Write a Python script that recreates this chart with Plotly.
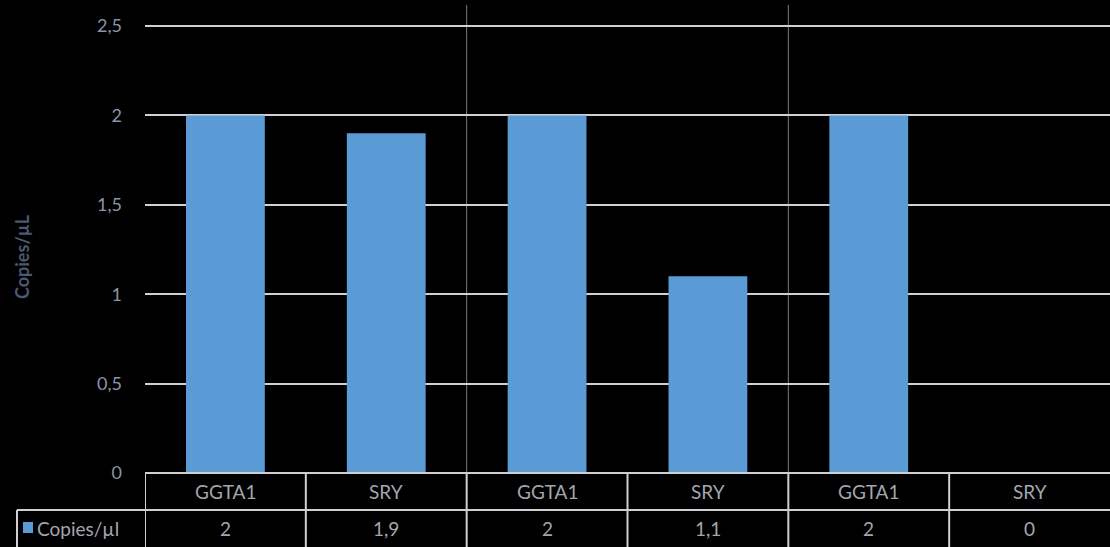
import plotly.graph_objects as go

categories = ["GGTA1", "SRY", "GGTA1", "SRY", "GGTA1", "SRY"]
values = [2, 1.9, 2, 1.1, 2, 0]
series_name = "Copies/µl"
y_title = "Copies/µL"
y_ticks = [0, 0.5, 1, 1.5, 2, 2.5]

W, H = 1110, 547
ML, MR, MT, MB = 145, 0, 5, 74
PW, PH = W - ML - MR, H - MT - MB
n = len(categories)
xs = list(range(n))

def fmt(v):
    s = ("%g" % v)
    return s.replace(".", ",")

FONT = "Lato"
TICKCOL = "#8a94a8"
TABCOL = "#a3a6ad"
LINECOL = "#d0d0d4"
BAR = "#5b9bd5"

fig = go.Figure()
fig.add_trace(go.Bar(
    x=xs, y=values, width=0.49,
    marker=dict(color=BAR, line=dict(width=0)),
    name=series_name, showlegend=False,
))

ymax = 2.5 * PH / (PH - (26 - MT))

def px2paper_y(py):
    return (H - MB - py) / PH

def px2paper_x(px):
    return (px - ML) / PW

shapes = []
# group separators
for b in [1.5, 3.5]:
    shapes.append(dict(type="line", xref="x", yref="paper", x0=b, x1=b,
                       y0=0, y1=1, line=dict(color="#7a7a7a", width=1), layer="below"))
# table horizontal lines
shapes.append(dict(type="line", xref="paper", yref="paper", x0=0, x1=1,
                   y0=px2paper_y(473), y1=px2paper_y(473), line=dict(color=LINECOL, width=2)))
shapes.append(dict(type="line", xref="paper", yref="paper", x0=px2paper_x(17), x1=1,
                   y0=px2paper_y(510), y1=px2paper_y(510), line=dict(color=LINECOL, width=2)))
# legend cell left border
shapes.append(dict(type="line", xref="paper", yref="paper", x0=px2paper_x(17), x1=px2paper_x(17),
                   y0=px2paper_y(510), y1=px2paper_y(H + 2), line=dict(color=LINECOL, width=2)))
# table vertical lines
for k in range(n):
    b = k - 0.5
    shapes.append(dict(type="line", xref="x", yref="paper", x0=b, x1=b,
                       y0=px2paper_y(473), y1=px2paper_y(H + 2), line=dict(color=LINECOL, width=2)))
# legend swatch
shapes.append(dict(type="rect", xref="paper", yref="paper",
                   x0=px2paper_x(23), x1=px2paper_x(33),
                   y0=px2paper_y(533), y1=px2paper_y(522),
                   fillcolor=BAR, line=dict(width=0)))

annotations = []
tfont = dict(family=FONT, size=19, color=TABCOL)
for i, (c, v) in enumerate(zip(categories, values)):
    annotations.append(dict(x=i, y=px2paper_y(491), xref="x", yref="paper", text=c,
                            xanchor="center", yanchor="middle", showarrow=False, font=tfont))
    annotations.append(dict(x=i, y=px2paper_y(528), xref="x", yref="paper", text=fmt(v),
                            xanchor="center", yanchor="middle", showarrow=False, font=tfont))
annotations.append(dict(x=px2paper_x(35), y=px2paper_y(528), xref="paper", yref="paper",
                        text=series_name, xanchor="left", yanchor="middle", showarrow=False,
                        font=tfont))
annotations.append(dict(x=px2paper_x(22), y=px2paper_y(257), xref="paper", yref="paper",
                        text="<b>" + y_title + "</b>", textangle=-90, showarrow=False,
                        xanchor="center", yanchor="middle",
                        font=dict(family=FONT, size=18, color="#4a5a72")))

fig.update_layout(
    width=W, height=H,
    margin=dict(l=ML, r=MR, t=MT, b=MB),
    paper_bgcolor="black", plot_bgcolor="black",
    separators=",.",
    bargap=0.5,
    shapes=shapes, annotations=annotations,
    xaxis=dict(range=[-0.5, n - 0.5], showgrid=False, zeroline=False,
               showticklabels=False, ticks="", showline=False, fixedrange=True),
    yaxis=dict(range=[0, ymax], tickvals=y_ticks, ticktext=[fmt(t) for t in y_ticks],
               showgrid=True, gridcolor=LINECOL, gridwidth=2, zeroline=False,
               showline=False, ticks="", ticklabelstandoff=22,
               tickfont=dict(family=FONT, size=18, color=TICKCOL), fixedrange=True),
)

fig.write_html("out.html", config={"displayModeBar": False},
               post_script="document.body.style.margin='0';document.body.style.background='black';")
